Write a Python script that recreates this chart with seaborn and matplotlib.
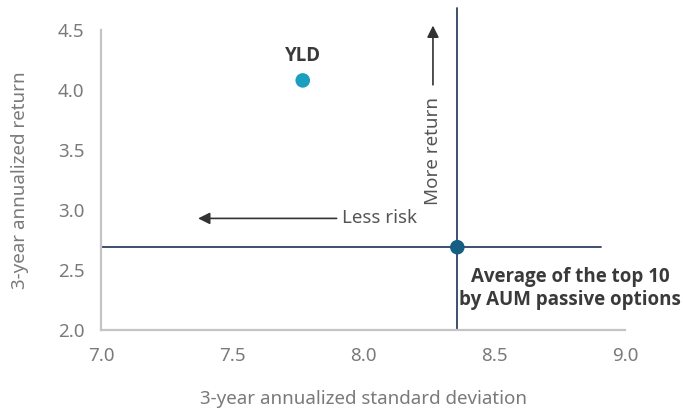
import matplotlib
matplotlib.use("Agg")
import matplotlib.pyplot as plt
import seaborn as sns
import pandas as pd

names = ["YLD", "Average of the top 10\nby AUM passive options"]
std_dev = [7.77, 8.36]
returns = [4.08, 2.69]
point_colors = ["#1a9fc0", "#175e85"]
x_ticks = [7.0, 7.5, 8.0, 8.5, 9.0]
y_ticks = [2.0, 2.5, 3.0, 3.5, 4.0, 4.5]

sns.set_style("white")
plt.rcParams['font.family'] = ['Noto Sans', 'DejaVu Sans']
BOLD = ['Open Sans', 'DejaVu Sans']

df = pd.DataFrame({"name": names, "std": std_dev, "ret": returns})

fig = plt.figure(figsize=(6.83, 4.11), dpi=100)
ax = fig.add_axes([101/683, 81/411, 524/683, 300/411])

line_c = "#2d4363"
ax.axhline(returns[1], xmin=0, xmax=(8.91-7.0)/2.0, color=line_c, lw=1.3, zorder=2)
ax.plot([std_dev[1], std_dev[1]], [2.0, 4.68], color=line_c, lw=1.3, zorder=2, clip_on=False)

sns.scatterplot(data=df, x="std", y="ret", hue="name", palette=point_colors,
                s=110, edgecolor="none", legend=False, ax=ax, zorder=3)

ax.set_xlim(7.0, 9.0)
ax.set_ylim(2.0, 4.5)
ax.set_xticks(x_ticks)
ax.set_yticks(y_ticks)
ax.set_xticklabels([f"{v:.1f}" for v in x_ticks])
ax.set_yticklabels([f"{v:.1f}" for v in y_ticks])
ax.tick_params(axis="both", length=0, labelsize=13.5, labelcolor="#7a7a7a", pad=12)

for s in ["top", "right"]:
    ax.spines[s].set_visible(False)
for s in ["left", "bottom"]:
    ax.spines[s].set_color("#c4c4c4")
    ax.spines[s].set_linewidth(1.6)

ax.set_xlabel("3-year annualized standard deviation", fontsize=13.5, color="#7a7a7a",
              labelpad=18)
ax.set_ylabel("3-year annualized return", fontsize=13.5, color="#7a7a7a",
              labelpad=21)

# labels for points
ax.text(std_dev[0], 4.28, names[0], ha="center", va="center", fontsize=13.5,
        fontweight="bold", color="#3a3a3a", family=BOLD)
ax.text(8.79, 2.35, names[1], ha="center", va="center", fontsize=13.5,
        fontweight="bold", color="#3a3a3a", linespacing=1.2, family=BOLD)

# Less risk arrow
ax.annotate("", xy=(7.36, 2.93), xytext=(7.91, 2.93),
            arrowprops=dict(arrowstyle="-|>,head_length=0.7,head_width=0.35",
                            color="#333333", lw=1.2))
ax.text(7.92, 2.93, "Less risk", ha="left", va="center", fontsize=13.5,
        color="#555555")

# More return arrow
ax.annotate("", xy=(8.267, 4.56), xytext=(8.267, 4.02),
            arrowprops=dict(arrowstyle="-|>,head_length=0.7,head_width=0.35",
                            color="#333333", lw=1.2), annotation_clip=False)
ax.text(8.267, 3.04, "More return", ha="center", va="bottom", rotation=90,
        fontsize=13.5, color="#555555")

fig.savefig("out.png", dpi=100)
